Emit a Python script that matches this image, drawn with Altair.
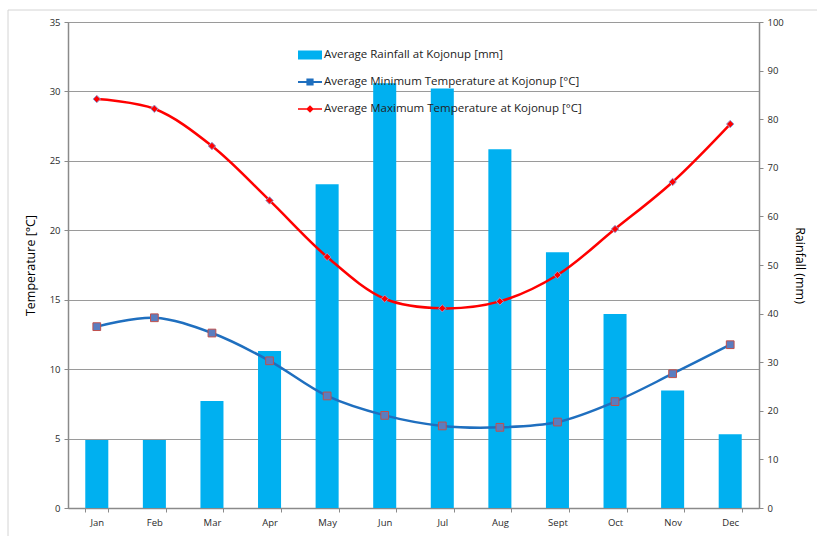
import altair as alt
import pandas as pd

months = ["Jan", "Feb", "Mar", "Apr", "May", "Jun", "Jul", "Aug", "Sept", "Oct", "Nov", "Dec"]
rainfall = [14.0, 14.0, 22.0, 32.3, 66.6, 87.4, 86.3, 73.8, 52.6, 39.9, 24.2, 15.2]
tmin = [13.06, 13.7, 12.6, 10.6, 8.07, 6.67, 5.91, 5.81, 6.19, 7.66, 9.67, 11.76]
tmax = [29.45, 28.75, 26.07, 22.15, 18.08, 15.07, 14.38, 14.88, 16.78, 20.09, 23.48, 27.65]

series_names = [
    "Average Rainfall at Kojonup [mm]",
    "Average Minimum Temperature at Kojonup [°C]",
    "Average Maximum Temperature at Kojonup [°C]",
]
series_colors = ["#00B0F0", "#1F6FBF", "#FF0000"]
legend_shapes = [
    "M-1,-0.375H1V0.375H-1Z",
    "M-1,-0.08H1V0.08H-1Z M-0.3,-0.3H0.3V0.3H-0.3Z",
    "M-1,-0.07H1V0.07H-1Z M0,-0.32L0.32,0L0,0.32L-0.32,0Z",
]

df = pd.DataFrame({"month": months, "rain": rainfall, "tmin": tmin, "tmax": tmax})

FONT = "Open Sans"

xenc = alt.X(
    "month:N",
    sort=months,
    scale=alt.Scale(domain=months, paddingInner=0.6, paddingOuter=0.3),
    axis=alt.Axis(
        title=None, labelAngle=0, tickBand="extent", grid=False,
        domainColor="#8A8A8A", domainWidth=1.5, tickColor="#8A8A8A", tickSize=4,
        labelFont=FONT, labelFontSize=9.5, labelColor="#2A2A2A", labelPadding=5,
    ),
)

bars = alt.Chart(df).mark_bar(color="#00B0F0").encode(
    x=xenc,
    y=alt.Y(
        "rain:Q",
        scale=alt.Scale(domain=[0, 100], nice=False),
        axis=alt.Axis(
            orient="right", values=list(range(0, 101, 10)), grid=False,
            title="Rainfall (mm)", titleFont=FONT, titleFontSize=12.5,
            titleFontWeight="normal", titleColor="#000000", titlePadding=9,
            domainColor="#8A8A8A", domainWidth=1.5, tickColor="#8A8A8A", tickSize=4,
            labelFont=FONT, labelFontSize=9.5, labelColor="#2A2A2A", labelPadding=4,
        ),
    ),
)

tscale = alt.Scale(domain=[0, 35], nice=False)
taxis = alt.Axis(
    orient="left", values=list(range(0, 36, 5)), grid=True,
    gridColor="#9A9A9A", gridWidth=1,
    title="Temperature [°C]", titleFont=FONT, titleFontSize=12.5,
    titleFontWeight="normal", titleColor="#000000", titlePadding=12,
    domainColor="#8A8A8A", domainWidth=1.5, tickColor="#8A8A8A", tickSize=4,
    labelFont=FONT, labelFontSize=9.5, labelColor="#2A2A2A", labelPadding=4,
)

base = alt.Chart(df).encode(x=xenc)

min_line = base.mark_line(color="#1F6FBF", strokeWidth=2.5, interpolate="catmull-rom").encode(
    y=alt.Y("tmin:Q", scale=tscale, axis=taxis)
)
min_pts = base.mark_point(shape="square", filled=True, fill="#5A7DC0", stroke="#C0504D",
                          strokeWidth=1, size=60, opacity=1).encode(
    y=alt.Y("tmin:Q", scale=tscale, axis=taxis)
)
max_line = base.mark_line(color="#FF0000", strokeWidth=2.5, interpolate="catmull-rom").encode(
    y=alt.Y("tmax:Q", scale=tscale, axis=taxis)
)
max_pts = base.mark_point(shape="diamond", filled=True, fill="#FF0000", stroke="#8EA0D8",
                          strokeWidth=1, size=55, opacity=1).encode(
    y=alt.Y("tmax:Q", scale=tscale, axis=taxis)
)

legend = alt.Legend(
    title=None, orient="none", legendX=230, legendY=21, padding=0,
    symbolSize=576, symbolStrokeWidth=0, rowPadding=9, labelOffset=2,
    labelFont=FONT, labelFontSize=11.5, labelColor="#222222", labelLimit=400,
)
dummy = alt.Chart(pd.DataFrame({"series": series_names})).transform_filter("false").mark_point(
    filled=True, opacity=1
).encode(
    color=alt.Color("series:N", scale=alt.Scale(domain=series_names, range=series_colors), legend=legend),
    shape=alt.Shape("series:N", scale=alt.Scale(domain=series_names, range=legend_shapes), legend=legend),
)

temps = alt.layer(min_line, min_pts, max_line, max_pts, dummy)

frame = alt.Chart(pd.DataFrame({"a": [0]})).mark_rect(
    fill=None, stroke="#D4D4D4", strokeWidth=1
).encode(
    x=alt.value(-60), x2=alt.value(770), y=alt.value(-12), y2=alt.value(540)
)

chart = alt.layer(bars, temps, frame).resolve_scale(y="independent").properties(
    width=691, height=486,
    autosize=alt.AutoSizeParams(type="none"),
    padding={"left": 68, "top": 22, "right": 58, "bottom": 28},
    background="#FFFFFF",
).configure_view(
    fill="#E6EEFB", stroke="#9A9A9A", strokeWidth=1
)

chart.save("out.html", embed_options={"renderer": "svg", "actions": False})
